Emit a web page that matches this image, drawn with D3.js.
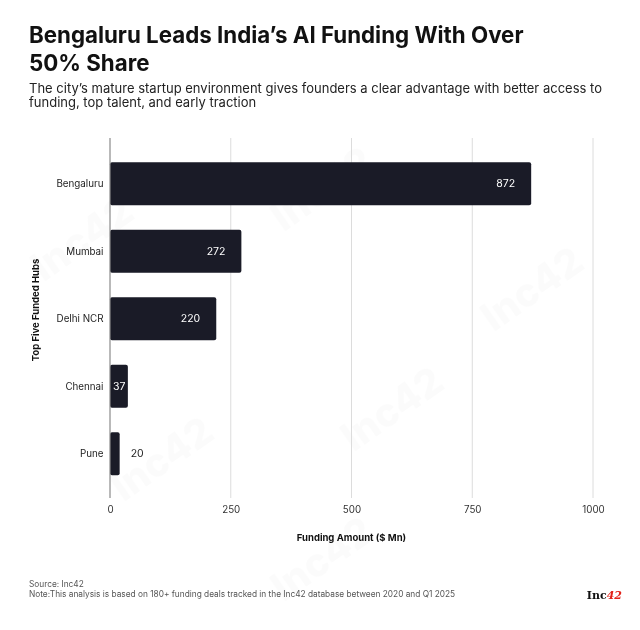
<!DOCTYPE html>
<html>
<head>
<meta charset="utf-8">
<script src="https://cdn.jsdelivr.net/npm/d3@7"></script>
<style>
  body { margin: 0; background: #fff; }
  svg text { font-family: Inter, "Noto Sans", sans-serif; }
</style>
</head>
<body>
<script>
// data
const hubs = ["Bengaluru", "Mumbai", "Delhi NCR", "Chennai", "Pune"];
const funding = [872, 272, 220, 37, 20];
const xTicks = [0, 250, 500, 750, 1000];

const titleLines = ["Bengaluru Leads India\u2019s AI Funding With Over", "50% Share"];
const subLines = [
  "The city\u2019s mature startup environment gives founders a clear advantage with better access to",
  "funding, top talent, and early traction"
];
const footLines = [
  "Source: Inc42",
  "Note:This analysis is based on 180+ funding deals tracked in the Inc42 database between 2020 and Q1 2025"
];

const W = 640, H = 630;
const plotL = 110, plotR = 593, plotT = 150, plotB = 487.5;

const svg = d3.select("body").append("svg")
  .attr("width", W)
  .attr("height", H);

svg.append("rect").attr("width", W).attr("height", H).attr("fill", "#fff");

// faint watermark
const wm = svg.append("g").attr("fill", "#000").attr("opacity", 0.016)
  .style("font-weight", 800).style("font-size", "40px");
[[90, 250], [330, 200], [540, 300], [170, 470], [400, 420], [330, 570]].forEach(p => {
  wm.append("text").attr("transform", `translate(${p[0]},${p[1]}) rotate(-35)`)
    .attr("text-anchor", "middle").text("Inc42");
});

// titles
svg.append("g").selectAll("text").data(titleLines).enter().append("text")
  .attr("x", 29).attr("y", (d, i) => 42.5 + i * 28)
  .style("font-size", "22.3px").style("font-weight", 700).attr("fill", "#111")
  .text(d => d);

svg.append("g").selectAll("text").data(subLines).enter().append("text")
  .attr("x", 29).attr("y", (d, i) => 92.5 + i * 14.5)
  .style("font-size", "13px").attr("fill", "#222")
  .text(d => d);

// scales
const x = d3.scaleLinear().domain([0, 1000]).range([plotL, plotR]);
const y = d3.scaleBand().domain(hubs).range([plotT, plotB]).paddingInner(0.36).paddingOuter(0.18);

// grid
svg.append("g").selectAll("line").data(xTicks.slice(1)).enter().append("line")
  .attr("x1", d => x(d)).attr("x2", d => x(d))
  .attr("y1", 138).attr("y2", 498)
  .attr("stroke", "#dcdcdc").attr("stroke-width", 1);

// bars
svg.append("g").selectAll("rect").data(hubs).enter().append("rect")
  .attr("x", x(0))
  .attr("y", d => y(d))
  .attr("width", (d, i) => x(funding[i]) - x(0))
  .attr("height", y.bandwidth())
  .attr("rx", 2)
  .attr("fill", "#1a1b27");

// y axis line
svg.append("line")
  .attr("x1", x(0)).attr("x2", x(0)).attr("y1", 138).attr("y2", 498)
  .attr("stroke", "#8a8a8a").attr("stroke-width", 1.2);

// value labels
const vals = svg.append("g").selectAll("text").data(hubs).enter().append("text")
  .attr("y", d => y(d) + y.bandwidth() / 2)
  .attr("dy", "0.35em")
  .style("font-size", "10.5px")
  .text((d, i) => funding[i]);

vals.each(function (d, i) {
  const t = d3.select(this);
  const w = this.getComputedTextLength();
  const end = x(funding[i]);
  if (end - x(0) > w + 3) {
    t.attr("text-anchor", "end").attr("fill", "#fff")
      .attr("x", Math.max(end - 16, x(0) + 3 + w));
  } else {
    t.attr("text-anchor", "start").attr("fill", "#222").attr("x", end + 11);
  }
});

// category labels
svg.append("g").selectAll("text").data(hubs).enter().append("text")
  .attr("x", 103.5)
  .attr("y", d => y(d) + y.bandwidth() / 2)
  .attr("dy", "0.35em")
  .attr("text-anchor", "end")
  .style("font-size", "9.8px").attr("fill", "#222")
  .text(d => d);

// x tick labels
const xAxis = svg.append("g")
  .attr("transform", `translate(0,${506})`)
  .call(d3.axisBottom(x).tickValues(xTicks).tickSize(0).tickPadding(0).tickFormat(d3.format("d")));
xAxis.select(".domain").remove();
xAxis.selectAll("text").style("font-size", "9.8px").attr("fill", "#333")
  .style("font-family", 'Inter, "Noto Sans", sans-serif');

// axis titles
svg.append("text")
  .attr("x", (plotL + plotR) / 2).attr("y", 541)
  .attr("text-anchor", "middle")
  .style("font-size", "9.5px").style("font-weight", 700).attr("fill", "#111")
  .text("Funding Amount ($ Mn)");

svg.append("text")
  .attr("transform", "translate(39,310) rotate(-90)")
  .attr("text-anchor", "middle")
  .style("font-size", "9.5px").style("font-weight", 700).attr("fill", "#111")
  .text("Top Five Funded Hubs");

// footer
svg.append("g").selectAll("text").data(footLines).enter().append("text")
  .attr("x", 29).attr("y", (d, i) => 586.5 + i * 10)
  .style("font-size", "8.3px").attr("fill", "#555")
  .text(d => d);

// logo
const logo = svg.append("text").attr("x", 622).attr("y", 599).attr("text-anchor", "end")
  .style("font-family", '"DejaVu Serif", "Liberation Serif", serif')
  .style("font-size", "11px").style("font-weight", 700);
logo.append("tspan").attr("fill", "#111").text("Inc");
logo.append("tspan").attr("fill", "#e2231a").style("font-style", "italic").text("42");
</script>
</body>
</html>
